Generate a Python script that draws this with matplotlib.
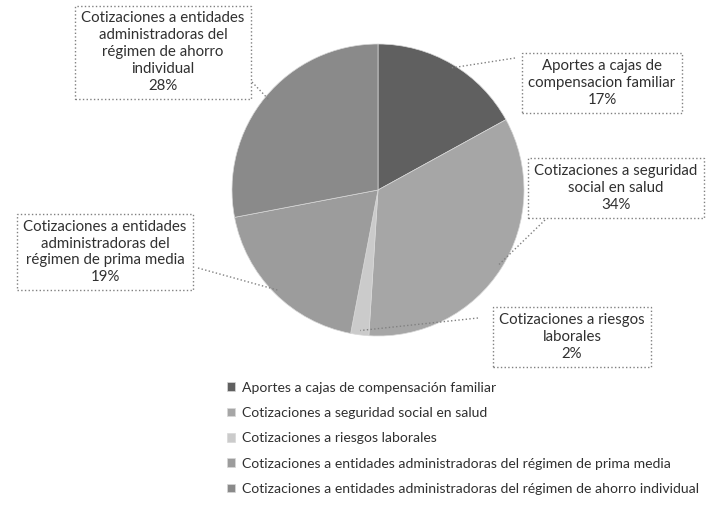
import matplotlib.pyplot as plt
import numpy as np

plt.rcParams['font.family'] = ['Lato', 'DejaVu Sans']

# Datos
categorias = ["Aportes a cajas de compensación familiar",
              "Cotizaciones a seguridad social en salud",
              "Cotizaciones a riesgos laborales",
              "Cotizaciones a entidades administradoras del régimen de prima media",
              "Cotizaciones a entidades administradoras del régimen de ahorro individual"]
valores = [17, 34, 2, 19, 28]
etiquetas = ["Aportes a cajas de\ncompensacion familiar",
             "Cotizaciones a seguridad\nsocial en salud",
             "Cotizaciones a riesgos\nlaborales",
             "Cotizaciones a entidades\nadministradoras del\nrégimen de prima media",
             "Cotizaciones a entidades\nadministradoras del\nrégimen de ahorro\nindividual"]
colores = ["#606060", "#a6a6a6", "#cbcbcb", "#9c9c9c", "#8a8a8a"]

# posiciones de las cajas (px, desde arriba) y del punto de anclaje en la caja
cajas = [(602, 83), (616, 188), (572, 337), (105, 252), (163, 52)]
anclas = [(515, 58), (545, 220), (478, 318), (198, 268), (252, 82)]

W, H = 707, 525
CX, CY, R = 378, 190, 146

fig = plt.figure(figsize=(W / 100, H / 100), dpi=100)
ax = fig.add_axes([0, 0, 1, 1])
ax.set_xlim(0, W)
ax.set_ylim(0, H)
ax.set_aspect('equal')
ax.axis('off')

wedges, _ = ax.pie(valores, colors=colores, startangle=90, counterclock=False,
                   center=(CX, H - CY), radius=R,
                   wedgeprops=dict(linewidth=0.5, edgecolor='#d8d8d8'))
ax.set_xlim(0, W)
ax.set_ylim(0, H)

total = sum(valores)
for i, w in enumerate(wedges):
    ang = np.deg2rad((w.theta1 + w.theta2) / 2)
    px = CX + 0.97 * R * np.cos(ang)
    py = (H - CY) + 0.97 * R * np.sin(ang)
    ax_, ay_ = anclas[i]
    ax.plot([ax_, px], [H - ay_, py], linestyle=':', color='#808080', lw=1)
    bx, by = cajas[i]
    txt = etiquetas[i] + "\n%d%%" % round(valores[i] * 100 / total)
    ax.text(bx, H - by, txt, ha='center', va='center', fontsize=10.8,
            color='#303030', linespacing=1.25,
            bbox=dict(boxstyle='square,pad=0.4', facecolor='white',
                      edgecolor='#808080', linestyle=':', linewidth=1))

fig.legend(wedges, categorias, loc='upper left',
           bbox_to_anchor=(214 / W, 1 - 369 / H), frameon=False,
           fontsize=10.1, labelspacing=0.95, handlelength=0.6,
           handleheight=0.6, handletextpad=0.5, labelcolor='#303030')

fig.savefig("out.png", dpi=100)
